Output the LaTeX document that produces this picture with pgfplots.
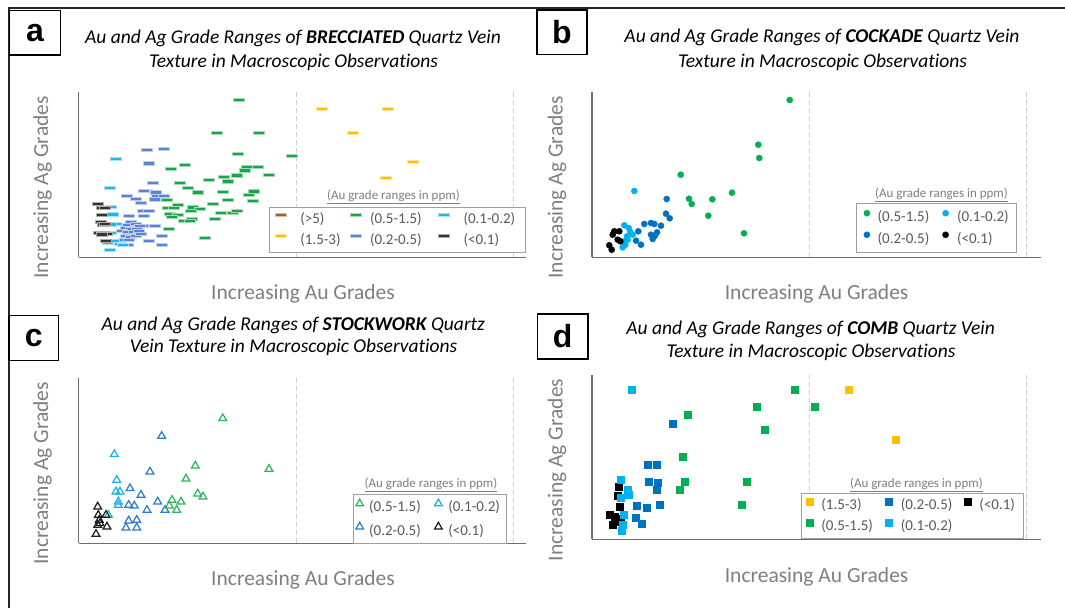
\documentclass[border=0pt]{standalone}
\usepackage{fontspec}
\setmainfont{Carlito}[Ligatures=NoCommon]
\newfontfamily\labelfont{Liberation Sans}
\usepackage{pgfplots}
\pgfplotsset{compat=1.18}

\definecolor{axgray}{HTML}{6E6E6E}
\definecolor{gridgray}{HTML}{D0D0D0}
\definecolor{labgray}{HTML}{7F7F7F}
\definecolor{leggray}{HTML}{595959}
\definecolor{boxgray}{HTML}{A0A0A0}
\definecolor{cgreen}{HTML}{00B050}
\definecolor{dgreen}{HTML}{1AA44A}
\definecolor{clblue}{HTML}{00B0F0}
\definecolor{alblue}{HTML}{1FB4EE}
\definecolor{cblue}{HTML}{0070C0}
\definecolor{ablue}{HTML}{5B83D0}
\definecolor{corange}{HTML}{FFC000}
\definecolor{cbrown}{HTML}{B5561A}
\definecolor{ablack}{HTML}{333333}
\definecolor{tgreen}{HTML}{2DB35A}
\definecolor{tlblue}{HTML}{16B0EC}
\definecolor{tblue}{HTML}{2A7BCB}
\definecolor{tblack}{HTML}{1A1A1A}

\pgfplotsset{
  panel/.style={scale only axis, anchor=south west, xmin=0, ymin=0,
    axis x line=bottom, axis y line=left,
    axis line style={-, line width=1.4pt, draw=axgray},
    xticklabels={}, ytick=\empty, major tick length=0pt, xmajorgrids,
    grid style={dash pattern=on 5pt off 3pt, draw=gridgray, line width=0.9pt},
    clip=false, legend cell align=left,
    xlabel={Increasing Au Grades}, ylabel={Increasing Ag Grades},
    label style={font=\fontsize{21.5}{26}\selectfont, text=labgray},
    legend style={draw=boxgray, line width=0.9pt, fill=white, column sep=0pt,
      anchor=north west,
      nodes={inner sep=0pt, text height=10.5pt, text depth=3.5pt,
        font=\fontsize{15}{18}\selectfont, text=leggray}},
  },
  limg/.style={legend image code/.code={\path (-#1,0pt) (#1,0pt); \draw[##1] plot coordinates {(0pt,4.8pt)};}},
  dashA/.style={color=#1, mark=square*, mark size=2.6pt,
    mark options={xscale=2.1, yscale=0.6, fill=#1, draw=#1!40, line width=0.7pt}},
  dotB/.style={color=#1, mark=*, mark size=3.1pt, mark options={fill=#1, draw=#1, line width=0.3pt}},
  triC/.style={color=#1, mark=triangle, mark size=4.4pt, mark options={draw=#1, line width=1.2pt}},
  sqD/.style={color=#1, mark=square*, mark size=3.6pt, mark options={fill=#1, draw=#1, line width=0.3pt}},
}

\begin{document}
\begin{tikzpicture}[x=1pt,y=1pt]
\useasboundingbox (0,0) rectangle (1065,608);
\fill[white] (0,0) rectangle (1065,608);
% frame
\draw[line width=2pt, black!85] (9,0) -- (9,600) -- (1065,600);
% panel label boxes
\draw[line width=1.4pt, fill=white] (9.6,553) rectangle (60.3,597.7);
\node[font=\labelfont\bfseries\fontsize{32}{36}\selectfont] at (35,575.3) {a};
\draw[line width=1.4pt, fill=white] (537,553.7) rectangle (587,598);
\node[font=\labelfont\bfseries\fontsize{32}{36}\selectfont] at (562,575.8) {b};
\draw[line width=1.4pt, fill=white] (9,247.3) rectangle (58.5,292.3);
\node[font=\labelfont\bfseries\fontsize{32}{36}\selectfont] at (33.7,269.8) {c};
\draw[line width=1.4pt, fill=white] (537.5,249) rectangle (588,294);
\node[font=\labelfont\bfseries\fontsize{32}{36}\selectfont] at (562.7,271.5) {d};
% titles
\begin{scope}[every node/.style={anchor=base, font=\fontsize{19.5}{23}\selectfont\itshape}]
\node at (293,564.3) {Au and Ag Grade Ranges of \textbf{BRECCIATED} Quartz Vein};
\node at (293.6,540.3) {Texture in Macroscopic Observations};
\node at (822,565.1) {Au and Ag Grade Ranges of \textbf{COCKADE} Quartz Vein};
\node at (822.6,540.8) {Texture in Macroscopic Observations};
\node at (293.3,277.8) {Au and Ag Grade Ranges of \textbf{STOCKWORK} Quartz};
\node at (293.6,255.1) {Vein Texture in Macroscopic Observations};
\node at (810.6,273.5) {Au and Ag Grade Ranges of \textbf{COMB} Quartz Vein};
\node at (811,250.1) {Texture in Macroscopic Observations};
\end{scope}

% ---------------- panel a ----------------
\begin{axis}[panel, at={(78.5,350.7)}, width=447.5pt, height=165.6pt,
  xmax=447.5, ymax=165.6, xtick={217.5,434.5},
  xlabel style={at={(axis description cs:0.5017,-0.2572)}, anchor=base},
  ylabel style={at={(axis description cs:-0.0677,0.4215)}, anchor=base},
  legend columns=3,
  legend style={at={(0.4248,0.3019)}, inner xsep=5.4pt, inner ysep=5.15pt, row sep=6.7pt}]
\addplot[only marks, dashA=ablue, forget plot] coordinates {
(68.7,107.3) (85.8,108.3) (70,94) (74.7,74.1) (68.7,66.8) (65.8,66.3) (77.8,65)
(48.2,61.5) (57,58.3) (78.3,61.5) (85,61.8) (76.7,58) (62.5,54.5) (64.5,46.6)
(70.2,46.3) (50.5,41.3) (65.3,41.3) (64.5,31.6) (76.7,31.6) (49.5,32.8) (83.5,21.6)
(70.3,16.1) (83.5,12.8) (49.2,12.3) (52.5,35.3) (57.5,33.3) (61.5,31.3) (47.5,29.3)
(52.5,28.3) (58.5,28.3) (43.5,26.3) (49.5,25.3) (55.5,25.3) (60.5,26.3) (47.5,21.3)
(52.5,20.3) (57.5,21.3) (62.5,23.3) (45.5,17.3) (50.5,17.3)};
\addplot[only marks, dashA=alblue, forget plot] coordinates {
(37.5,98.3) (31,69.3) (32.5,50.3) (34.2,43) (37.5,33.3) (32.5,33) (32,24.8)
(29.5,14.8) (35.5,16.3) (41.5,13.3) (44.5,12.3) (31.5,7.8)};
\addplot[only marks, dashA=ablack, forget plot] coordinates {
(19.5,53.3) (23.5,49.8) (26.7,49.1) (23.3,42.1) (22,35.1) (24.2,33) (26.7,33.3)
(20.3,24.8) (25.5,24.8) (28,23.8) (27.5,16.3) (23.5,23)};
\addplot[only marks, dashA=dgreen, forget plot] coordinates {
(160.5,157.3) (138,124.3) (180.8,124.3) (159.5,103.3) (213,101.6) (92,88.5)
(106.5,92.3) (168.2,90.6) (179.2,90.6) (166.3,87) (145.5,80.8) (158.7,82)
(190.8,82.3) (130.8,77.6) (101.5,74.3) (149.5,76) (109.8,69.3) (119.8,65)
(175,66) (144.8,65.8) (170.7,62.6) (149.5,57.8) (174.2,56.6) (88.3,57.8)
(134,53.3) (99.8,52.8) (89,49.6) (95.2,49.6) (114.8,50) (121.5,48.6) (112.5,46.3)
(142,44.8) (154.8,44.8) (158.5,46.3) (91.8,43.3) (99.8,42.8) (93.3,40.6)
(113.3,38.8) (105,36.5) (111,36.5) (136.2,38.3) (90.8,28.3) (126.8,19.6)};
\addplot[only marks, dashA=corange, forget plot] coordinates {
(243.5,148.8) (309.7,148.8) (274.7,124.3) (334.7,95.8) (307,79.3)};
\addlegendimage{dashA=cbrown, limg=6pt}
\addlegendentry{\makebox[62pt][l]{\hspace{13pt}(>5)}}
\addlegendimage{dashA=dgreen, limg=6pt}
\addlegendentry{\makebox[75pt][l]{\hspace{7.8pt}(0.5-1.5)}}
\addlegendimage{dashA=alblue, limg=6pt}
\addlegendentry{\makebox[70pt][l]{\hspace{13.4pt}(0.1-0.2)}}
\addlegendimage{dashA=corange, limg=6pt}
\addlegendentry{\makebox[62pt][l]{\hspace{13pt}(1.5-3)}}
\addlegendimage{dashA=ablue, limg=6pt}
\addlegendentry{\makebox[75pt][l]{\hspace{7.8pt}(0.2-0.5)}}
\addlegendimage{dashA=ablack, limg=6pt}
\addlegendentry{\makebox[70pt][l]{\hspace{13.4pt}(<0.1)}}
\end{axis}

% ---------------- panel b ----------------
\begin{axis}[panel, at={(592.1,350.7)}, width=448.6pt, height=165.6pt,
  xmax=448.6, ymax=165.6, xtick={217.7,434.3},
  xlabel style={at={(axis description cs:0.5004,-0.2572)}, anchor=base},
  ylabel style={at={(axis description cs:-0.066,0.4215)}, anchor=base},
  legend columns=2,
  legend style={at={(0.5878,0.3261)}, inner xsep=4.2pt, inner ysep=6.35pt, row sep=6.7pt}]
\addplot[only marks, dotB=cblue, forget plot] coordinates {
(74.6,58.3) (73.9,43.6) (77.6,39) (52.2,33.3) (58.9,34.3) (62.2,33.3) (68.9,31.6)
(46.2,26) (64.9,25) (62.9,21.6) (60.6,18.3) (43.9,16.6) (48.9,12.6) (58.9,22.6)};
\addplot[only marks, dotB=clblue, forget plot] coordinates {
(42.2,66.3) (32.2,32) (36.6,29.3) (38.2,25.3) (40.6,22.6) (34.9,21) (32.2,16)
(30.6,10) (35.6,17.6) (33.2,12.6)};
\addplot[only marks, dotB=black, forget plot] coordinates {
(22.2,26) (27.2,26) (20.6,22.6) (25.6,17.6) (28.2,16) (17.2,12) (19.6,7.6)};
\addplot[only marks, dotB=cgreen, forget plot] coordinates {
(197.6,157.3) (166.2,112.6) (167.2,99.3) (88.6,82.6) (139.9,64.6) (96.9,58.6)
(99.6,53.3) (120.2,58) (116.2,41.6) (151.9,24)};
\addlegendimage{dotB=cgreen, limg=6pt}
\addlegendentry{\makebox[65.8pt][l]{\hspace{4.3pt}(0.5-1.5)}}
\addlegendimage{dotB=clblue, limg=6pt}
\addlegendentry{\makebox[60.5pt][l]{\hspace{5pt}(0.1-0.2)}}
\addlegendimage{dotB=cblue, limg=6pt}
\addlegendentry{\makebox[65.8pt][l]{\hspace{4.3pt}(0.2-0.5)}}
\addlegendimage{dotB=black, limg=6pt}
\addlegendentry{\makebox[60.5pt][l]{\hspace{5pt}(<0.1)}}
\end{axis}

% ---------------- panel c ----------------
\begin{axis}[panel, at={(78.5,64.7)}, width=447.5pt, height=165.6pt,
  xmax=447.5, ymax=165.6, xtick={217.5,434.5},
  xlabel style={at={(axis description cs:0.5017,-0.253)}, anchor=base},
  ylabel style={at={(axis description cs:-0.0677,0.4227)}, anchor=base},
  legend columns=2,
  legend style={at={(0.6134,0.2977)}, inner xsep=0.8pt, inner ysep=4.65pt, row sep=7pt}]
\addplot[only marks, triC=tblue, forget plot] coordinates {
(83.2,107.3) (71.5,71.6) (51.5,55) (62.5,48.3) (79.2,41.6) (50.2,38.3) (55.8,37.6)
(68.5,33.3) (86.5,33.3) (50.2,22.6) (58.2,23.3) (47.5,15.6) (58.2,15.6)};
\addplot[only marks, triC=tlblue, forget plot] coordinates {
(35.8,89) (38.2,63.3) (37.5,51.6) (41.5,51.6) (39.8,41.6) (39.8,38.3) (29.8,28.3)};
\addplot[only marks, triC=tblack, forget plot] coordinates {
(19.2,36.6) (19.8,28.3) (20.8,23.3) (21.5,20) (27.5,28.3) (28.5,16.6) (19.2,18.3) (17.5,9.3)};
\addplot[only marks, triC=tgreen, forget plot] coordinates {
(144.2,125) (190.5,74.3) (116.8,77.6) (107.5,64.6) (119.2,49.6) (124.5,46.6)
(93.5,43.3) (102.5,41.6) (90.8,37.6) (98.2,33.3)};
\addlegendimage{triC=tgreen, limg=5pt}
\addlegendentry{\makebox[67.8pt][l]{\hspace{4pt}(0.5-1.5)}}
\addlegendimage{triC=tlblue, limg=5pt}
\addlegendentry{\makebox[62.1pt][l]{\hspace{4.4pt}(0.1-0.2)}}
\addlegendimage{triC=tblue, limg=5pt}
\addlegendentry{\makebox[67.8pt][l]{\hspace{4pt}(0.2-0.5)}}
\addlegendimage{triC=tblack, limg=5pt}
\addlegendentry{\makebox[62.1pt][l]{\hspace{4.4pt}(<0.1)}}
\end{axis}

% ---------------- panel d ----------------
\begin{axis}[panel, at={(592.1,68.7)}, width=448.6pt, height=164.3pt,
  xmax=448.6, ymax=164.3, xtick={217.7,434.3},
  xlabel style={at={(axis description cs:0.5004,-0.2654)}, anchor=base},
  ylabel style={at={(axis description cs:-0.066,0.4218)}, anchor=base},
  legend columns=3,
  legend style={at={(0.4648,0.28)}, inner xsep=2.1pt, inner ysep=4pt, row sep=5.7pt}]
\addplot[only marks, sqD=cblue, forget plot] coordinates {
(80.9,116) (55.6,74.3) (64.9,74.3) (56.2,57.6) (65.6,56.6) (64.2,49.3) (44.6,33.3)
(54.9,31.6) (67.2,35) (43.2,21.6) (49.9,16)};
\addplot[only marks, sqD=black, forget plot] coordinates {
(26.6,52.6) (25.6,43.6) (27.2,32.6) (17.2,25) (22.2,22.6) (25.6,20.3) (28.9,17.6) (20.6,14.3)};
\addplot[only marks, sqD=clblue, forget plot] coordinates {
(39.6,149.3) (28.9,59.3) (35.6,49.3) (36.6,44.3) (28.9,41.6) (31.2,25) (30.6,15) (29.9,8.3)};
\addplot[only marks, sqD=cgreen, forget plot] coordinates {
(202.2,149.3) (164.6,132.3) (222.2,132.3) (95.6,124.3) (172.2,110) (90.9,82.3)
(154.9,57.6) (92.2,57.6) (87.6,49.3) (149.9,34.3)};
\addplot[only marks, sqD=corange, forget plot] coordinates {
(256.6,149.3) (303.6,99.3)};
\addlegendimage{sqD=corange, limg=6pt}
\addlegendentry{\makebox[66.5pt][l]{\hspace{5.3pt}(1.5-3)}}
\addlegendimage{sqD=cblue, limg=6pt}
\addlegendentry{\makebox[65.8pt][l]{\hspace{5.3pt}(0.2-0.5)}}
\addlegendimage{sqD=black, limg=6pt}
\addlegendentry{\makebox[47.5pt][l]{\hspace{5.3pt}(<0.1)}}
\addlegendimage{sqD=cgreen, limg=6pt}
\addlegendentry{\makebox[66.5pt][l]{\hspace{5.3pt}(0.5-1.5)}}
\addlegendimage{sqD=clblue, limg=6pt}
\addlegendentry{\makebox[65.8pt][l]{\hspace{5.3pt}(0.1-0.2)}}
\end{axis}

% legend headers
\begin{scope}[every node/.style={anchor=base, font=\fontsize{13}{15}\selectfont, text=labgray}]
\node at (393.4,408.1) {\underline{(Au grade ranges in ppm)}};
\node at (941.5,410.5) {\underline{(Au grade ranges in ppm)}};
\node at (431,120.5) {\underline{(Au grade ranges in ppm)}};
\node at (916.4,120.5) {\underline{(Au grade ranges in ppm)}};
\end{scope}
\end{tikzpicture}
\end{document}
